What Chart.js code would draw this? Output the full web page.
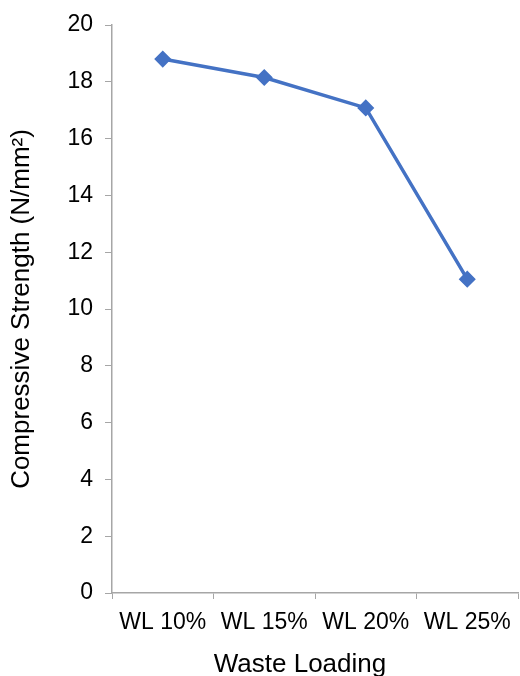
<!DOCTYPE html>
<html>
<head>
<meta charset="utf-8">
<script src="https://cdn.jsdelivr.net/npm/chart.js@4/dist/chart.umd.min.js"></script>
<style>
  html, body { margin: 0; padding: 0; background: #ffffff; }
  #wrap { width: 520px; height: 676px; position: relative; }
</style>
</head>
<body>
<div id="wrap"><canvas id="chart" width="520" height="676"></canvas></div>
<script>
// Compressive strength of the waste forms at each waste loading
const categories = ['WL 10%', 'WL 15%', 'WL 20%', 'WL 25%'];
const strength = [18.8, 18.15, 17.08, 11.05];
const yTicks = [0, 2, 4, 6, 8, 10, 12, 14, 16, 18, 20];
const xTitle = 'Waste Loading';
const yTitle = 'Compressive Strength (N/mm²)';

const axisGrey = '#a6a6a6';
const fontFamily = '"Liberation Sans", Arial, sans-serif';

// The category-axis title sits a little left of the plot centre
const xAxisTitle = {
  id: 'xAxisTitle',
  afterDraw(chart) {
    const s = chart.scales.x;
    const ctx = chart.ctx;
    ctx.save();
    ctx.font = '26px ' + fontFamily;
    ctx.fillStyle = '#000';
    ctx.textAlign = 'center';
    ctx.textBaseline = 'alphabetic';
    ctx.fillText(xTitle, (s.left + s.right) / 2 - 15, s.bottom - 4);
    ctx.restore();
  }
};

new Chart(document.getElementById('chart'), {
  type: 'line',
  data: {
    labels: categories,
    datasets: [{
      data: strength,
      borderColor: '#4472c4',
      backgroundColor: '#4472c4',
      borderWidth: 3.5,
      pointStyle: 'rectRot',
      pointRadius: 7.5,
      pointHoverRadius: 7.5,
      pointBorderWidth: 1.5,
      pointBorderColor: '#4472c4',
      tension: 0,
      fill: false
    }]
  },
  plugins: [xAxisTitle],
  options: {
    responsive: false,
    animation: false,
    devicePixelRatio: 1,
    layout: { autoPadding: false, padding: { top: 25, right: 2, bottom: 0, left: 0 } },
    plugins: { legend: { display: false }, tooltip: { enabled: false } },
    scales: {
      x: {
        offset: true,
        grid: {
          offset: true,
          drawOnChartArea: false,
          drawTicks: true,
          tickLength: 6,
          color: axisGrey,
          lineWidth: 1
        },
        border: { color: axisGrey, width: 1.5 },
        ticks: {
          color: '#000',
          font: { family: fontFamily, size: 23 },
          padding: 10,
          maxRotation: 0,
          autoSkip: false
        },
        title: { display: false, text: xTitle },
        afterFit: s => { s.height = 83; s.paddingLeft = 0; s.paddingRight = 0; }
      },
      y: {
        min: 0,
        max: 20,
        afterBuildTicks: s => { s.ticks = yTicks.map(v => ({ value: v })); },
        grid: {
          drawOnChartArea: false,
          drawTicks: true,
          tickLength: 7,
          color: axisGrey,
          lineWidth: 1
        },
        border: { color: axisGrey, width: 1.5 },
        ticks: {
          color: '#000',
          font: { family: fontFamily, size: 23 },
          padding: 12
        },
        title: {
          display: true,
          text: yTitle,
          color: '#000',
          font: { family: fontFamily, size: 26 },
          padding: { top: 6, bottom: 0 }
        },
        afterFit: s => { s.width = 112; s.paddingTop = 0; s.paddingBottom = 0; }
      }
    }
  }
});
</script>
</body>
</html>
